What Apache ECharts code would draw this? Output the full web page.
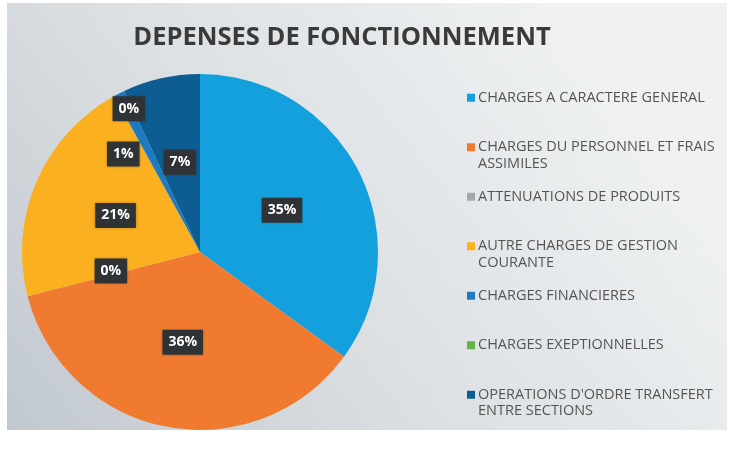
<!DOCTYPE html>
<html>
<head>
<meta charset="utf-8">
<script src="https://cdn.jsdelivr.net/npm/echarts@6/dist/echarts.min.js"></script>
<style>
  html, body { margin: 0; padding: 0; background: #fff; }
  #chart { width: 730px; height: 449px; }
</style>
</head>
<body>
<div id="chart"></div>
<script>
// categories (legend text, line breaks as in the original)
var categories = [
    'CHARGES A CARACTERE GENERAL',
    'CHARGES DU PERSONNEL ET FRAIS\nASSIMILES',
    'ATTENUATIONS DE PRODUITS',
    'AUTRE CHARGES DE GESTION\nCOURANTE',
    'CHARGES FINANCIERES',
    'CHARGES EXEPTIONNELLES',
    "OPERATIONS D'ORDRE TRANSFERT\nENTRE SECTIONS"
];
// share of spending, in %
var values = [35, 36, 0, 21, 1, 0, 7];
var colors = ['#14a0dc', '#f07b30', '#a7a7a7', '#fbb020', '#1e7bc1', '#63b346', '#0e5d92'];
// small label shifts so the tiny slices don't overlap
var labelShift = [null, null, [0, -4], null, [-35, -16], [-32, -60], null];

var myChart = echarts.init(document.getElementById('chart'));

var pieData = categories.map(function (name, i) {
    var item = { name: name, value: values[i], itemStyle: { color: colors[i] } };
    if (labelShift[i]) {
        item.label = { offset: labelShift[i] };
    }
    return item;
});

var option = {
    backgroundColor: '#ffffff',
    animation: false,
    graphic: [
        {
            type: 'rect',
            z: -10,
            shape: { x: 7, y: 3, width: 720, height: 427 },
            style: {
                fill: {
                    type: 'linear', x: 0, y: 1, x2: 0.75, y2: 0,
                    colorStops: [
                        { offset: 0, color: '#c1c8cf' },
                        { offset: 0.5, color: '#dce0e3' },
                        { offset: 1, color: '#eff1f2' }
                    ]
                }
            }
        }
    ],
    title: {
        text: 'DEPENSES DE FONCTIONNEMENT',
        left: 337,
        textAlign: 'center',
        top: 20,
        textStyle: {
            color: '#3a3a3a',
            fontFamily: '"Open Sans", sans-serif',
            fontWeight: 'bold',
            fontSize: 25.5
        }
    },
    legend: {
        orient: 'vertical',
        left: 462,
        top: 68,
        itemGap: 0,
        itemWidth: 8,
        itemHeight: 8,
        icon: 'rect',
        selectedMode: false,
        formatter: function (name) {
            var parts = name.split('\n');
            return '\n' + parts[0] + '\n' + (parts[1] || '');
        },
        textStyle: {
            color: '#555',
            fontFamily: '"Open Sans", sans-serif',
            fontSize: 14.5,
            lineHeight: 16.5,
            padding: [0, 0, 0, -2]
        },
        data: categories
    },
    series: [
        {
            name: 'DEPENSES DE FONCTIONNEMENT',
            type: 'pie',
            radius: 178,
            center: [200, 252],
            startAngle: 90,
            clockwise: true,
            percentPrecision: 0,
            avoidLabelOverlap: false,
            label: {
                position: 'inside',
                formatter: '{d}%',
                color: '#fff',
                fontFamily: '"Open Sans", sans-serif',
                fontWeight: 'bold',
                fontSize: 14,
                lineHeight: 13,
                backgroundColor: '#303336',
                padding: [6, 6],
                shadowColor: 'rgba(0,0,0,0.3)',
                shadowBlur: 3
            },
            labelLine: { show: false },
            itemStyle: { borderWidth: 0 },
            data: pieData
        }
    ]
};

myChart.setOption(option);
</script>
</body>
</html>
